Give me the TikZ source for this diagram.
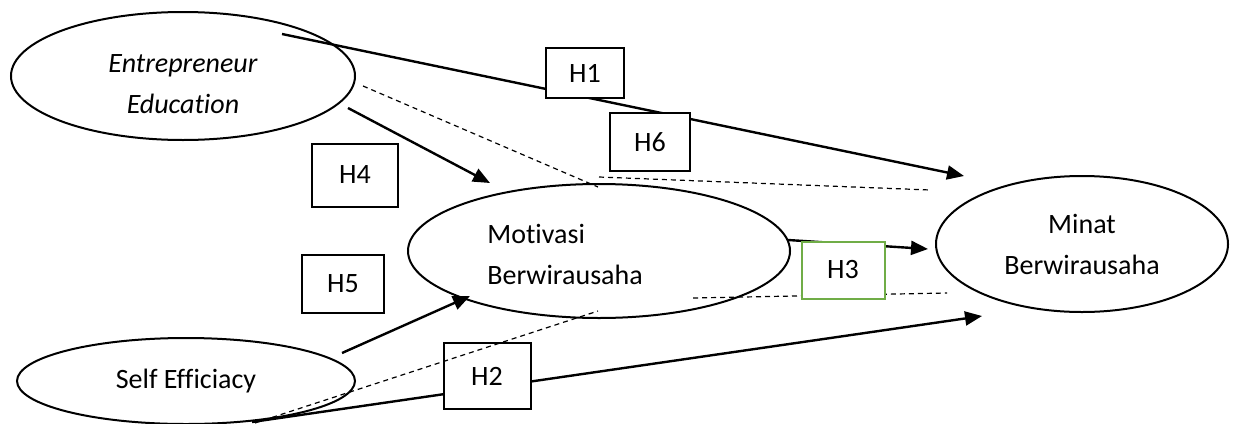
\documentclass[tikz,border=0pt]{standalone}
\usepackage{fontspec}
\setmainfont{Carlito}[Ligatures=NoCommon]
\usetikzlibrary{arrows.meta,shapes.geometric}
\definecolor{hgreen}{HTML}{70AD47}
\tikzset{
  construct/.style={draw, ellipse, line width=1pt, inner sep=0pt, align=center},
  lbl/.style={inner sep=0pt},
  hbox/.style={draw, fill=white, line width=1pt, inner sep=0pt},
  effect/.style={->, line width=1.2pt},
  mediation/.style={line width=0.6pt, dash pattern=on 2.5pt off 2pt}
}
\begin{document}
\begin{tikzpicture}[x=0.5pt, y=-0.5pt, font=\fontsize{14}{20.5}\selectfont,
    >={Triangle[length=8.5pt,width=7pt]}]
      \useasboundingbox (0,0) rectangle (1234,423);
      % constructs
      \node[construct, minimum width=172pt, minimum height=64pt] (ee) at (183,76) {};
      \node[lbl, align=center] (eelbl) at (183,84)
        {\textit{Entrepreneur}\\\textit{Education}};
      \node[construct, minimum width=191pt, minimum height=67pt] (mot) at (599,251) {};
      \node[lbl, anchor=west, align=left] (motlbl) at (487,254)
        {Motivasi\\Berwirausaha};
      \node[construct, minimum width=146pt, minimum height=68pt] (minat) at (1082,244)
        {Minat\\Berwirausaha};
      \node[construct, minimum width=169pt, minimum height=43pt] (se) at (186,381)
        {Self Efficiacy};
      % end points of the paths
      \path
        (282,34) coordinate (h1s)   (964,176) coordinate (h1e)
        (348,108) coordinate (h4s)  (490,183) coordinate (h4e)
        (342,353) coordinate (h5s)  (470,296) coordinate (h5e)
        (252,422) coordinate (h2s)  (982,316) coordinate (h2e)
        (788,240) coordinate (h3s)  (928,249) coordinate (h3e)
        (363,86) coordinate (d1a)   (598,187) coordinate (d1b)
        (599,177) coordinate (d2a)  (930,190) coordinate (d2b)
        (255,423) coordinate (d3a)  (598,311) coordinate (d3b)
        (693,298) coordinate (d4a)  (947,293) coordinate (d4b);
      \begin{scope}[effect]
        \draw (h1s) to (h1e);
        \draw (h4s) to (h4e);
        \draw (h5s) to (h5e);
        \draw (h2s) to (h2e);
        \draw (h3s) to (h3e);
      \end{scope}
      \draw
        (585,73) node[hbox, minimum width=39pt, minimum height=25pt] (h1){H1}
        (650,142) node[hbox, minimum width=40pt, minimum height=29pt] (h6){H6}
        (355,175) node[hbox, minimum width=43pt, minimum height=31.5pt] (h4){H4}
        (343,284) node[hbox, minimum width=41pt, minimum height=29pt] (h5){H5}
        (487,376) node[hbox, minimum width=43.5pt, minimum height=33pt] (h2){H2};
      \begin{scope}[mediation]
        \draw (d1a) to (d1b);
        \draw (d2a) to (d2b);
        \draw (d3a) to (d3b);
        \draw (d4a) to (d4b);
      \end{scope}
      \node[hbox, draw=hgreen, minimum width=41.5pt, minimum height=28.5pt] (h3)
        at (843,270) {H3};
    \end{tikzpicture}
\end{document}
